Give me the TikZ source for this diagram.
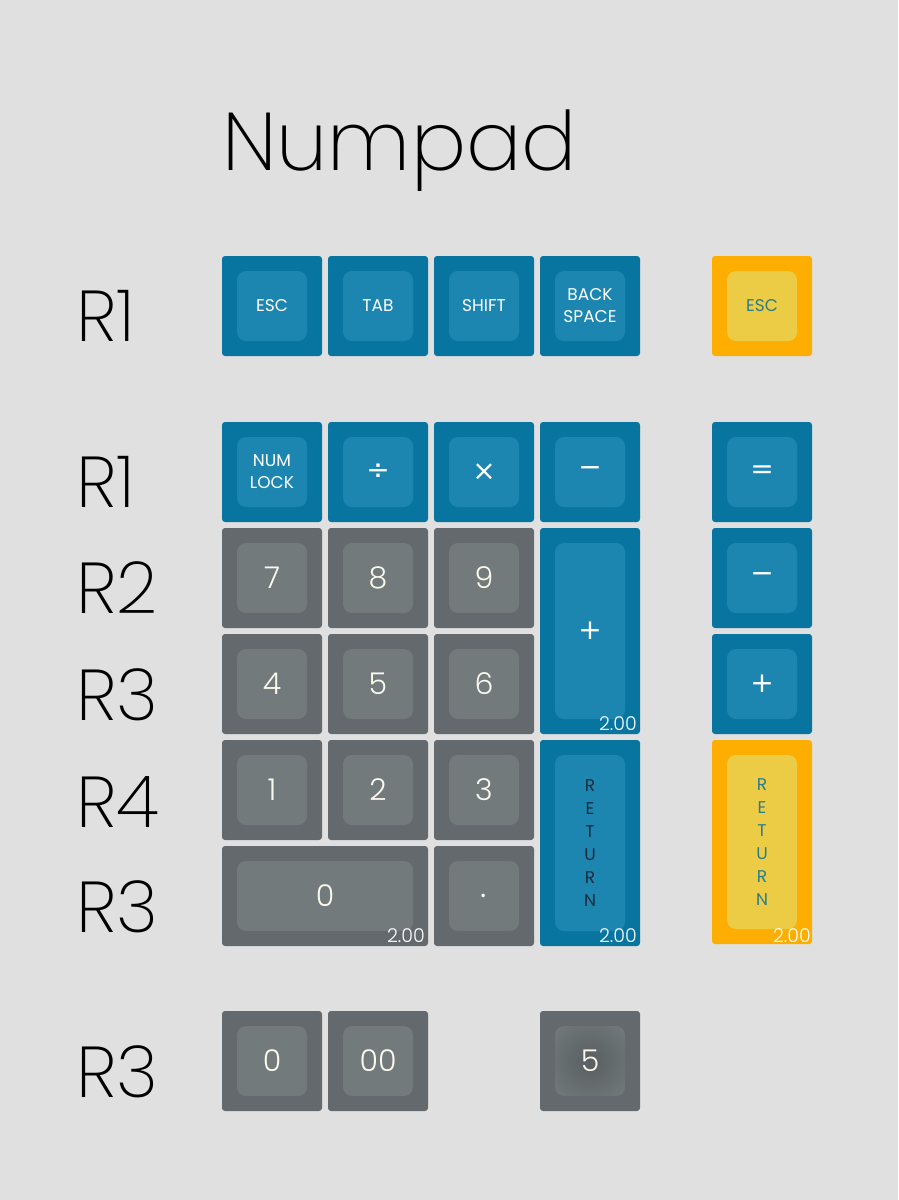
\documentclass[tikz,border=0pt]{standalone}
\usepackage{fontspec}
\setmainfont{Poppins Light}
\newfontfamily\capfont{Poppins}
\newfontfamily\thinfont{Poppins ExtraLight}
\newfontfamily\symfont{DejaVu Sans}
\usetikzlibrary{positioning}

\definecolor{bg}{HTML}{E0E0E0}
\definecolor{keyblue}{HTML}{0875A1}
\definecolor{capblue}{HTML}{1C86B0}
\definecolor{keyorange}{HTML}{FDAE00}
\definecolor{caporange}{HTML}{EDCC45}
\definecolor{keygray}{HTML}{63696C}
\definecolor{capgray}{HTML}{727A7B}
\definecolor{legendteal}{HTML}{2C7C8B}
\definecolor{legendnavy}{HTML}{1A2C3A}
\definecolor{legendcream}{HTML}{FBF9EE}

\tikzset{
  cap/.style={path picture={\fill[#1,rounded corners=9pt]
      ([shift={(15pt,15pt)}]path picture bounding box.south west) rectangle
      ([shift={(-15pt,-15pt)}]path picture bounding box.north east);}},
  key/.style={minimum width=100pt, minimum height=100pt, inner sep=0pt,
      outer sep=0pt, rounded corners=3pt, align=center},
  bluekey/.style={key, fill=keyblue, cap=capblue, text=white,
      font=\capfont\fontsize{17}{22}\selectfont},
  orangekey/.style={key, fill=keyorange, cap=caporange, text=legendteal,
      font=\capfont\fontsize{17}{22}\selectfont},
  graykey/.style={key, fill=keygray, cap=capgray, text=legendcream,
      font=\fontsize{30}{32}\selectfont},
  symkey/.style={bluekey, font=\symfont\fontsize{28}{30}\selectfont},
  tall/.style={minimum height=206pt},
  wide/.style={minimum width=206pt},
  vertical/.style={font=\capfont\fontsize{17}{23}\selectfont},
  sizelabel/.style={text=white, inner sep=0pt, font=\fontsize{19}{19}\selectfont},
  rowlabel/.style={anchor=base west, inner sep=0pt, font=\thinfont\fontsize{72}{72}\selectfont},
}

\begin{document}
\begin{tikzpicture}[x=1pt,y=-1pt,node distance=6pt]
    \useasboundingbox[fill=bg] (0,0) rectangle (898,1200);

    \node[anchor=base west, inner sep=0pt, font=\thinfont\fontsize{82}{82}\selectfont] (title) at (222,170) {Numpad};

    % row labels
    \node[rowlabel] (r1a) at (76,341) {R1};
    \node[rowlabel] (r1b) at (76,507) {R1};
    \node[rowlabel] (r2)  at (76,613) {R2};
    \node[rowlabel] (r3a) at (76,720) {R3};
    \node[rowlabel] (r4)  at (76,827) {R4};
    \node[rowlabel] (r3b) at (76,932) {R3};
    \node[rowlabel] (r3c) at (76,1097) {R3};

    % top row
    \node[bluekey] (esc) at (272,306) {ESC};
    \node[bluekey] (tab) [right=of esc] {TAB};
    \node[bluekey] (shift) [right=of tab] {SHIFT};
    \node[bluekey] (bksp) [right=of shift] {BACK\\SPACE};
    \node[orangekey] (escalt) at (762,306) {ESC};

    % numpad block
    \node[bluekey] (numlock) at (272,472) {NUM\\LOCK};
    \node[symkey] (div) [right=of numlock] {÷};
    \node[symkey] (mul) [right=of div] {×};
    \node[symkey] (sub) [right=of mul] {−};

    \node[graykey] (k7) [below=of numlock] {7};
    \node[graykey] (k8) [right=of k7] {8};
    \node[graykey] (k9) [right=of k8] {9};
    \node[symkey,tall] (add) [below=of sub] {+};

    \node[graykey] (k4) [below=of k7] {4};
    \node[graykey] (k5) [right=of k4] {5};
    \node[graykey] (k6) [right=of k5] {6};

    \node[graykey] (k1) [below=of k4] {1};
    \node[graykey] (k2) [right=of k1] {2};
    \node[graykey] (k3) [right=of k2] {3};
    \node[bluekey,tall,vertical,text=legendnavy] (ret) [below=of add] {R\\E\\T\\U\\R\\N};

    \node[graykey,wide] (k0) [below=of k1.south west,anchor=north west] {0};
    \node[graykey,font=\fontsize{34}{34}\selectfont] (dot) [below=of k3] {\raisebox{-4pt}{.}};

    % right column
    \node[symkey] (eq) at (762,472) {=};
    \node[symkey] (subalt) [below=of eq] {−};
    \node[symkey] (addalt) [below=of subalt] {+};
    \node[orangekey,tall,vertical,minimum height=204pt] (retalt) [below=of addalt] {R\\E\\T\\U\\R\\N};

    % size labels
    \node[sizelabel,anchor=south east] (addsz) at ([shift={(-3pt,3pt)}]add.south east) {2.00};
    \node[sizelabel,anchor=south east] (retsz) at ([shift={(-3pt,3pt)}]ret.south east) {2.00};
    \node[sizelabel,anchor=south east] (k0sz) at ([shift={(-3pt,3pt)}]k0.south east) {2.00};
    \node[sizelabel,anchor=south east] (retaltsz) at ([shift={(-1pt,1pt)}]retalt.south east) {2.00};

    % bottom row
    \node[graykey] (b0) at (272,1061) {0};
    \node[graykey] (b00) [right=of b0] {00};
    \node[graykey,path picture={\shade[inner color=keygray!90!black,outer color=capgray,rounded corners=9pt]
      ([shift={(15pt,15pt)}]path picture bounding box.south west) rectangle
      ([shift={(-15pt,-15pt)}]path picture bounding box.north east);}] (b5) at (590,1061) {5};

\end{tikzpicture}
\end{document}
